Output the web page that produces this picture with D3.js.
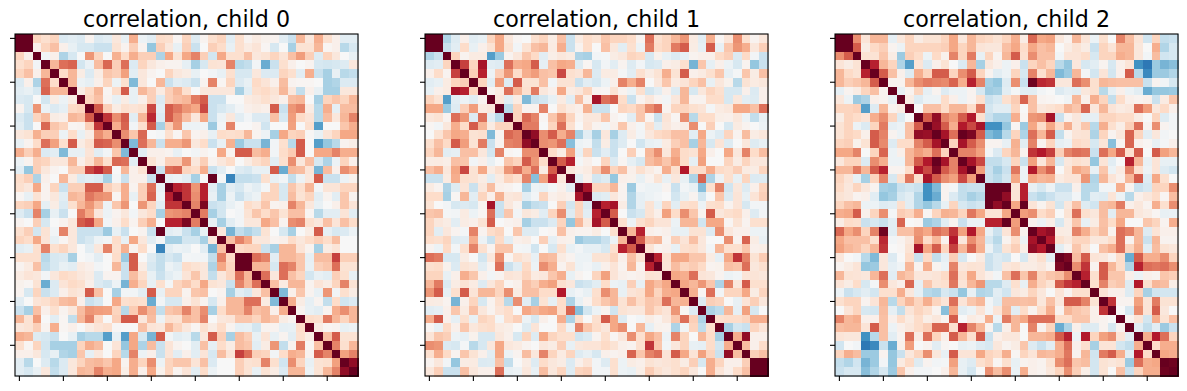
<!DOCTYPE html>
<html><head><meta charset="utf-8">
<script src="https://cdn.jsdelivr.net/npm/d3@7/dist/d3.min.js"></script>
<style>html,body{margin:0;padding:0;background:#fff}svg{display:block}</style>
</head><body><svg id="chart" width="1187" height="391"></svg>
<script>
// Upper triangle of each correlation matrix, in hundredths; row i starts at column i.
const child0 = [
[100,98,20,15,20,-13,-10,-13,3,-13,-10,10,-7,33,-5,-10,17,15,2,20,-12,3,15,20,-10,15,3,8,4,3,-10,-20,30,10,33,15,5,-10,-10],
[100,5,20,27,5,-7,-15,-15,-20,-20,13,3,22,3,-35,22,10,-7,22,-20,0,22,17,-7,15,8,12,2,-15,0,-30,13,13,30,2,5,-25,-15],
[100,-3,5,-28,-15,0,40,20,0,32,17,33,22,22,-28,35,13,35,45,22,-17,35,15,15,27,10,13,20,12,27,38,22,-12,20,10,0,-7],
[100,30,50,53,-17,-6,28,52,22,50,-13,20,10,5,3,3,-8,-30,-15,13,12,45,-25,-22,-3,-45,-20,15,5,0,3,-15,-17,-15,-12,10],
[100,17,30,7,-13,7,25,22,37,-10,10,3,0,20,10,7,-7,0,-3,-7,15,-15,-15,10,-13,-13,20,15,-10,33,-20,-30,-7,-25,-22],
[100,30,-5,-8,5,20,-5,15,-40,10,0,30,-20,-10,-13,-20,3,45,2,20,-13,-7,18,12,5,28,3,2,2,0,-30,-27,-13,-13],
[100,7,18,30,2,17,55,-7,30,22,8,22,30,15,0,10,10,10,10,-30,-10,15,18,13,30,10,-22,5,-7,-30,-30,10,10],
[100,20,27,3,-7,7,-7,5,22,-13,22,27,30,47,55,-20,-20,0,0,8,10,15,10,5,28,30,0,-30,20,25,20,30],
[100,55,22,7,15,12,15,60,-10,55,48,40,35,60,-20,-15,-10,-3,5,7,5,55,-20,40,45,7,-25,33,-8,28,28],
[100,65,42,55,-10,30,68,-13,55,42,28,10,35,-20,-5,10,-10,-3,-13,-13,27,-15,38,18,12,-25,28,10,30,45],
[100,33,53,-3,15,55,-30,22,40,-5,-5,-3,-33,-3,45,0,0,3,-18,0,0,37,0,15,-50,0,0,25,33],
[100,42,25,52,0,-2,15,2,25,3,5,-7,17,15,17,30,3,-5,-30,35,20,22,1,-7,12,20,35,35],
[100,-40,50,30,-20,33,33,40,10,17,-20,-7,32,-33,-20,-20,-42,-3,15,-25,55,0,-50,-35,-25,3,6],
[100,-10,5,5,3,-7,0,-3,3,0,35,3,55,55,28,33,-3,17,23,55,0,35,35,45,33,33],
[100,13,5,22,22,40,10,22,3,10,17,0,7,15,20,-10,15,42,10,27,-15,-28,-5,20,5],
[100,-20,50,53,20,17,33,-20,-10,0,-12,-15,-7,-7,55,-45,30,28,12,-42,28,5,42,35],
[100,-7,-5,-10,-30,0,100,-2,-60,-22,-22,-20,15,-7,-3,-22,-5,10,55,-20,-20,-5,4],
[100,70,65,40,70,-10,-30,-10,-15,-5,-10,-2,20,-15,25,15,30,-3,12,12,20,20],
[100,65,42,70,-7,-30,-5,-20,-10,-5,20,20,-15,28,13,20,-10,3,-10,25,3],
[100,45,85,-20,-17,-7,-2,17,12,25,3,5,45,30,10,-7,0,5,25,12],
[100,47,-30,-17,0,-3,13,25,17,25,13,27,27,2,-25,-10,-10,12,-10],
[100,-7,-30,-10,-3,10,10,35,27,3,42,45,15,10,27,12,27,17],
[100,10,-42,-22,-28,-22,13,0,-15,-30,0,7,55,-8,-15,-13,-5],
[100,27,45,35,10,10,3,5,17,10,17,22,17,28,0,0],
[100,18,20,20,-20,-30,30,30,12,3,-30,7,12,0,0],
[100,95,50,45,-10,30,30,25,-8,28,28,62,22,22],
[100,30,30,-15,50,45,25,-7,22,25,50,13,13],
[100,50,10,50,27,20,-17,-7,-10,22,15,-7],
[100,27,8,30,30,3,12,7,20,45,13],
[100,-40,5,25,3,-7,40,-3,15,7],
[100,33,7,-8,3,-22,17,-18,-13],
[100,3,-7,-10,3,33,42,30],
[100,17,15,47,30,20,30],
[100,7,2,3,-7,-5],
[100,27,55,13,13],
[100,45,15,30],
[100,37,45],
[100,80],
[100]];
const child1 = [
[100,90,-27,-12,5,-10,-7,20,35,10,2,0,15,20,7,27,-20,8,17,13,25,20,20,17,3,50,15,20,30,40,8,-10,33,2,12,42,15,3,10],
[100,-20,-10,17,-7,5,13,35,13,-3,13,27,30,8,33,-20,3,17,0,27,10,-10,15,-5,47,17,20,47,55,7,-8,55,-7,25,40,33,10,22],
[100,20,3,8,8,-50,-33,3,10,25,18,-10,6,10,8,-28,-30,-3,-2,7,10,20,18,-15,4,-7,-13,-8,3,5,5,18,22,-13,18,-3,-20],
[100,62,20,75,-10,-12,50,33,35,55,-8,27,35,33,-12,2,-15,-3,-10,3,-12,-3,-15,-13,5,7,15,-42,25,-8,5,-5,-15,3,-35,-20],
[100,22,70,-5,22,40,17,33,38,27,25,60,15,12,30,-13,8,7,-2,-10,15,7,13,33,13,55,5,8,15,25,-8,-2,25,7,27],
[100,20,-10,38,-12,55,13,13,27,-3,13,13,-20,-10,-15,-5,5,45,33,45,0,10,25,8,12,20,27,-7,10,4,-25,13,8,10],
[100,3,8,50,30,15,47,10,5,35,7,10,20,3,2,13,3,-5,15,-17,-10,5,-12,30,-15,10,20,15,-15,-15,5,-13,5],
[100,10,-10,8,-40,-20,-17,-7,8,-10,28,5,75,50,55,17,-20,3,10,3,-3,10,30,3,3,17,17,-15,10,-10,-12,5],
[100,-25,20,3,3,45,0,15,8,5,32,-20,-20,0,20,18,25,42,50,3,20,20,15,12,-2,8,10,35,35,27,50],
[100,20,52,45,2,25,40,20,3,10,10,25,3,0,-10,25,2,-20,12,2,42,-25,17,17,6,5,10,-5,-22,-7],
[100,47,47,0,20,50,15,0,12,3,-3,5,25,5,-2,15,-10,10,5,7,42,0,22,0,-15,8,3,0,-5],
[100,80,42,55,33,45,-30,-10,-30,10,-30,-12,7,-3,10,18,20,27,27,-10,35,-5,-12,20,3,28,7,10],
[100,42,40,50,-38,-5,-3,-22,7,-20,-12,0,-18,-7,-5,8,22,27,-30,30,-15,12,-12,0,10,-12,-7],
[100,17,7,37,-7,20,-20,-10,-20,0,22,0,30,42,10,33,17,13,35,5,0,35,10,45,17,28],
[100,55,70,-2,5,0,20,-13,2,-8,-15,28,33,25,37,17,-8,37,0,0,20,7,20,10,10],
[100,10,5,8,22,42,20,27,5,15,8,3,33,15,72,17,17,33,18,15,22,8,7,20],
[100,-10,5,-17,-12,-35,5,4,-7,3,13,-7,10,-7,-28,53,-28,-5,15,-7,20,-13,-12],
[100,75,20,20,30,3,-33,-3,-5,-5,3,-20,-3,-7,-38,15,45,-18,10,-12,5,20],
[100,-13,-10,10,3,-27,-8,-5,-3,0,-17,-7,3,-17,0,25,-13,12,-7,12,22],
[100,70,75,7,-27,-8,13,-7,20,-10,15,17,-5,15,17,3,12,-15,-3,-3],
[100,55,0,-20,-15,13,5,37,17,42,25,3,55,10,15,18,5,-12,-3],
[100,15,-5,15,20,12,12,-5,30,30,-18,35,35,2,13,3,15,15],
[100,30,70,5,3,5,-7,-7,13,13,-12,42,10,5,5,-5,-5],
[100,55,27,30,3,22,12,27,10,0,0,42,3,53,7,-7],
[100,13,3,5,-7,15,17,10,-3,30,15,15,25,5,6],
[100,70,13,35,35,25,25,7,-8,35,65,45,13,23],
[100,12,28,20,23,18,3,4,27,25,50,10,15],
[100,35,33,50,12,10,3,-5,-3,12,12,10],
[100,35,30,40,25,-28,45,10,55,15,15],
[100,32,2,50,-3,20,20,35,7,20],
[100,-12,22,20,0,-7,12,22,10],
[100,-28,-23,30,-8,37,-15,0],
[100,15,17,17,20,33,33],
[100,-30,-17,-20,20,12],
[100,33,80,5,5],
[100,28,5,17],
[100,22,27],
[100,92],
[100]];
const child2 = [
[100,98,42,12,30,30,-8,10,20,7,13,13,20,35,10,30,20,18,13,20,33,7,52,35,37,10,3,30,12,-5,15,0,45,28,12,-18,20,-22,-20],
[100,55,7,18,22,3,-5,20,20,20,20,22,35,20,30,12,10,10,27,35,17,35,27,30,0,7,13,7,-20,20,12,30,30,10,0,33,-27,-15],
[100,13,13,25,7,-33,22,17,-5,18,4,45,20,47,-7,20,3,30,55,15,42,27,27,-3,12,12,17,-15,20,20,33,30,10,-3,28,-18,-15],
[100,70,30,20,-28,-50,12,-13,5,13,0,-13,30,-30,10,5,-5,5,-20,20,27,20,-25,-35,10,-15,-10,3,-15,5,12,-55,-65,-33,-42,-38],
[100,55,27,5,-12,33,20,55,55,20,42,55,20,3,-10,-5,20,-15,45,15,30,-40,-33,30,-2,-17,12,-17,5,55,-25,-58,-33,-33,-27],
[100,3,3,30,42,47,45,43,53,33,70,45,-30,-35,-12,42,-20,88,68,65,10,10,50,42,15,30,28,27,27,27,-20,3,-3,-15],
[100,-7,3,20,-8,3,-12,-5,-5,3,-15,-32,-30,-10,-2,-10,-10,-3,0,-13,-8,-10,10,15,-25,-8,5,-5,-10,-45,-35,-35,-33],
[100,7,-12,-5,-5,17,5,-5,3,15,-20,-15,15,23,53,27,3,2,0,-4,30,5,33,20,-22,17,5,3,5,-20,8,25],
[100,0,27,27,17,30,30,17,48,-17,-10,-10,20,0,27,10,13,17,30,25,52,10,30,12,8,10,50,38,10,18,5],
[100,55,80,45,38,55,72,15,-20,-27,-27,33,2,40,42,75,-20,3,10,-8,-8,20,20,17,17,7,0,20,-12,-3],
[100,78,55,33,72,60,75,-55,-55,-35,2,-33,35,17,35,18,33,10,25,-25,33,15,6,22,50,3,42,3,-3],
[100,75,50,100,85,55,-40,-45,-25,20,-28,50,30,55,-22,3,12,13,-28,20,3,10,53,20,-10,10,-3,0],
[100,20,75,55,42,3,3,-7,32,-10,45,3,20,-8,-5,18,15,-15,12,-38,3,53,5,2,-7,-2,5],
[100,45,45,37,-2,-13,20,30,3,65,72,62,22,45,50,48,-20,50,35,55,15,55,0,55,37,30],
[100,75,60,-22,-22,-15,20,-20,37,10,30,-15,10,15,12,-35,12,-10,0,70,30,-7,12,-7,-7],
[100,38,-20,-30,-20,48,-5,72,42,53,0,13,35,30,-7,25,-5,8,45,15,-5,12,-12,-17],
[100,-20,-25,-17,35,-5,35,30,32,8,12,12,40,-27,30,12,5,30,55,-12,35,15,0],
[100,100,100,12,70,-7,-15,-5,-20,-20,5,-25,-25,-3,-3,33,3,-20,-15,20,20,42],
[100,80,12,70,-20,-25,-20,-13,-13,-3,-25,-10,-12,12,-5,-25,5,10,17,2,28],
[100,35,100,12,3,13,-17,10,27,-12,-18,28,30,47,5,10,3,33,15,42],
[100,38,42,17,22,0,13,50,15,10,28,-10,30,30,10,7,2,-7,-6],
[100,3,-5,6,-15,7,25,-7,7,27,17,35,0,0,25,20,3,33],
[100,75,80,8,7,45,33,20,28,3,50,45,30,-12,12,5,5],
[100,72,15,10,20,20,10,10,17,50,3,30,-20,30,3,3],
[100,-10,3,25,13,0,27,33,50,20,33,-10,28,13,10],
[100,85,28,55,12,10,3,17,-45,55,33,33,42,20],
[100,42,65,3,55,30,17,-28,70,50,48,50,42],
[100,70,15,55,25,25,5,-5,5,3,25,22],
[100,15,45,22,25,-12,72,15,30,28,6],
[100,13,5,5,-12,20,-30,-18,-17,-17],
[100,65,3,3,37,12,47,13,13],
[100,0,-15,42,12,55,10,0],
[100,3,12,-17,33,13,27],
[100,-10,-22,-10,-33,-20],
[100,33,72,50,20],
[100,17,33,33],
[100,35,33],
[100,88],
[100]];
const titles = ["correlation, child 0","correlation, child 1","correlation, child 2"];
const matrices = [child0, child1, child2];
const tickIndex = [0,5,10,15,20,25,30,35];
const N = 39;

const panelLeft = [15, 425, 835], panelTop = 34, panelW = 343, panelH = 342;
const colorSpan = 0.9;
const stops = d3.schemeRdBu[11].slice().reverse();
const color = d3.scaleLinear().domain(d3.range(11).map(i => (-1 + i * 0.2) * colorSpan)).range(stops).clamp(true).interpolate(d3.interpolateRgb);
const svg = d3.select("#chart");

matrices.forEach((upper, m) => {
  upper.forEach((r, i) => { if (r.length !== N - i) console.error("row length", m, i, r.length); });
  const cells = [];
  upper.forEach((row, i) => row.forEach((v, k) => {
    const j = i + k;
    cells.push({r: i, c: j, v: v / 100});
    if (j !== i) cells.push({r: j, c: i, v: v / 100});
  }));
  const x = d3.scaleBand().domain(d3.range(N)).range([0, panelW]);
  const y = d3.scaleBand().domain(d3.range(N)).range([0, panelH]);
  const g = svg.append("g").attr("transform", `translate(${panelLeft[m]},${panelTop})`);
  g.append("g").attr("shape-rendering", "crispEdges").selectAll("rect").data(cells).join("rect")
    .attr("x", d => x(d.c)).attr("y", d => y(d.r))
    .attr("width", x.bandwidth() + 0.5).attr("height", y.bandwidth() + 0.5)
    .attr("fill", d => color(d.v));
  const ax = g.append("g").attr("transform", `translate(0,${panelH})`)
    .call(d3.axisBottom(x).tickValues(tickIndex).tickFormat("").tickSize(5).tickSizeOuter(0));
  const ay = g.append("g")
    .call(d3.axisLeft(y).tickValues(tickIndex).tickFormat("").tickSize(5).tickSizeOuter(0));
  [ax, ay].forEach(a => { a.select(".domain").remove(); a.selectAll("line").attr("stroke", "#000").attr("stroke-width", 1.1); });
  g.append("rect").attr("width", panelW).attr("height", panelH)
    .attr("fill", "none").attr("stroke", "#000").attr("stroke-width", 1.1);
  g.append("text").attr("x", panelW / 2).attr("y", -7).attr("text-anchor", "middle")
    .attr("font-family", "'DejaVu Sans'").attr("font-size", 22.2).attr("fill", "#000").text(titles[m]);
});
</script></body></html>
